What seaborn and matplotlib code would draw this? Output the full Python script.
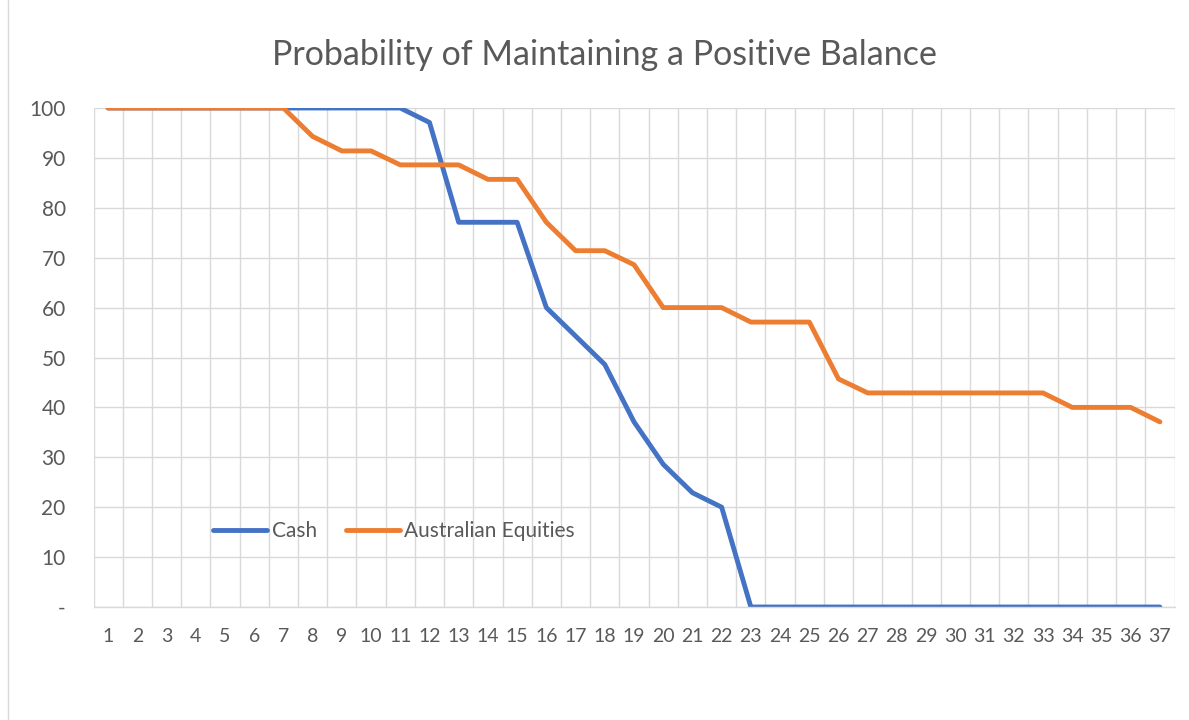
import numpy as np
import pandas as pd
import seaborn as sns
import matplotlib.pyplot as plt
from matplotlib.ticker import FixedLocator
from matplotlib.lines import Line2D

years = list(range(1, 38))
cash = [100, 100, 100, 100, 100, 100, 100, 100, 100, 100, 100, 97.1, 77.1, 77.1, 77.1,
        60.0, 54.3, 48.6, 37.1, 28.6, 22.9, 20.0, 0, 0, 0, 0, 0, 0, 0, 0, 0, 0, 0, 0, 0, 0, 0]
equities = [100, 100, 100, 100, 100, 100, 100, 94.3, 91.4, 91.4, 88.6, 88.6, 88.6, 85.7, 85.7,
            77.1, 71.4, 71.4, 68.6, 60.0, 60.0, 60.0, 57.1, 57.1, 57.1, 45.7, 42.9, 42.9, 42.9,
            42.9, 42.9, 42.9, 42.9, 40.0, 40.0, 40.0, 37.1]
series_names = ["Cash", "Australian Equities"]
colors = ["#4472C4", "#ED7D31"]

df = pd.DataFrame({
    "year": years * 2,
    "value": cash + equities,
    "series": [series_names[0]] * len(years) + [series_names[1]] * len(years),
})

sns.set_theme(style="white")
plt.rcParams["font.family"] = ["Lato", "DejaVu Sans"]
text_grey = "#595959"
grid_grey = "#D9D9D9"

fig = plt.figure(figsize=(11.89, 7.2), dpi=100)
ax = fig.add_axes([93.5 / 1189, 1 - 607 / 720, 1081 / 1189, 499 / 720])

sns.lineplot(data=df, x="year", y="value", hue="series", palette=colors,
             linewidth=3.5, ax=ax, legend=False)
for line in ax.lines:
    line.set_solid_capstyle("round")
    line.set_solid_joinstyle("round")

ax.set_xlim(0.5, 37.5)
ax.set_ylim(0, 100)
ax.set_xticks(years)
ax.set_xticklabels([str(y) for y in years])
ax.xaxis.set_minor_locator(FixedLocator(np.arange(0.5, 38, 1)))
yt = list(range(0, 101, 10))
ax.set_yticks(yt)
ax.set_yticklabels(["-"] + [str(v) for v in yt[1:]])

ax.grid(which="minor", axis="x", color=grid_grey, linewidth=1.0)
ax.grid(which="major", axis="y", color=grid_grey, linewidth=1.0)
ax.grid(which="major", axis="x", visible=False)
ax.set_axisbelow(True)
for s in ["top", "right", "left"]:
    ax.spines[s].set_visible(False)
ax.spines["bottom"].set_color(grid_grey)
ax.spines["bottom"].set_linewidth(1.0)

ax.tick_params(axis="both", which="both", length=0, colors=text_grey)
ax.tick_params(axis="y", labelsize=15, pad=20)
ax.tick_params(axis="x", labelsize=14, pad=15)
ax.set_xlabel("")
ax.set_ylabel("")

handles = [Line2D([0], [0], color=c, linewidth=3.5, solid_capstyle="round") for c in colors]
leg = ax.legend(handles, series_names, loc="center", bbox_to_anchor=(0.278, 0.152),
                ncol=2, frameon=False, fontsize=15, handlelength=2.6,
                handletextpad=0.2, columnspacing=1.4)
for t in leg.get_texts():
    t.set_color(text_grey)

fig.text(0.508, 0.924, "Probability of Maintaining a Positive Balance",
         ha="center", va="center", fontsize=24.5, color=text_grey)

fig.add_artist(Line2D([8 / 1189, 8 / 1189], [0, 1], color=grid_grey, linewidth=1.0))

fig.savefig("out.png", dpi=100)
